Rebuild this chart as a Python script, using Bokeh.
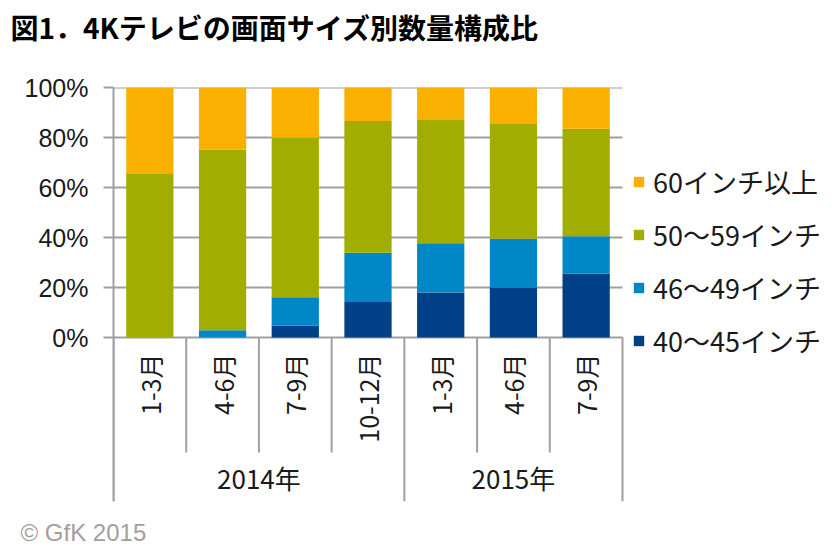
import numpy as np
from bokeh.plotting import figure
from bokeh.models import (Range1d, FixedTicker, PrintfTickFormatter, Legend,
                          LegendItem, Title, ColumnDataSource)
from bokeh.embed import file_html
from bokeh.resources import INLINE
from bokeh.core.properties import value

# ---------------- data ----------------
title_text = "図1．4Kテレビの画面サイズ別数量構成比"
years = ["2014年", "2014年", "2014年", "2014年", "2015年", "2015年", "2015年"]
quarters = ["1-3月", "4-6月", "7-9月", "10-12月", "1-3月", "4-6月", "7-9月"]
series_names = ["40～45インチ", "46～49インチ", "50～59インチ", "60インチ以上"]
s40_45 = [0.0, 0.0, 4.8, 14.2, 18.0, 19.8, 25.5]
s46_49 = [0.0, 2.9, 11.3, 19.7, 19.7, 19.7, 15.0]
s50_59 = [65.7, 72.2, 63.8, 52.7, 49.6, 45.9, 43.0]
s60_up = [34.3, 24.9, 20.1, 13.4, 12.7, 14.6, 16.5]
y_ticks = [0, 20, 40, 60, 80, 100]
source_note = "© GfK 2015"

colors = ["#004087", "#0087C7", "#A1AD00", "#F9B000"]
grid_color = "#A0A0A0"
text_color = "#1a1a1a"
cjk_font = "Noto Sans CJK JP"
latin_font = "Liberation Sans"

# ---------------- layout (page pixels) ----------------
W, H = 840, 555
frame_left, plot_right = 113, 622
frame_top, frame_bottom = 87, 501
zero_px = 337                       # page y of the 0% line
n = len(quarters)
px_per_pct = (zero_px - frame_top) / 100.0
y_min = -(frame_bottom - zero_px) / px_per_pct
px_per_cat = (plot_right - frame_left) / n
x_max = -0.5 + (W - frame_left) / px_per_cat


def px_to_y(py):
    return (zero_px - py) / px_per_pct


p = figure(width=W, height=H,
           x_range=Range1d(-0.5, x_max), y_range=Range1d(y_min, 100),
           x_axis_type=None, toolbar_location=None, output_backend="svg",
           min_border_left=frame_left, min_border_right=0,
           min_border_top=frame_top, min_border_bottom=H - frame_bottom)
p.title = None
p.outline_line_color = None
p.background_fill_color = "white"
p.border_fill_color = "white"

# y axis
p.yaxis.ticker = FixedTicker(ticks=y_ticks)
p.yaxis.formatter = PrintfTickFormatter(format="%d%%")
p.yaxis.major_label_text_font = latin_font
p.yaxis.major_label_text_font_size = "25px"
p.yaxis.major_label_text_color = text_color
p.yaxis.major_tick_out = 10
p.yaxis.major_tick_in = 0
p.yaxis.minor_tick_line_color = None
p.yaxis.axis_line_color = grid_color
p.yaxis.axis_line_width = 2
p.yaxis.major_tick_line_color = grid_color
p.yaxis.major_tick_line_width = 2
p.yaxis.major_label_standoff = 15
p.ygrid.visible = False

# horizontal grid lines over the category span only
p.segment(x0=[-0.5] * len(y_ticks), y0=y_ticks, x1=[n - 0.5] * len(y_ticks), y1=y_ticks,
          line_color=grid_color, line_width=2)

# bars
idx = list(range(n))
src = ColumnDataSource(dict(x=idx, s0=s40_45, s1=s46_49, s2=s50_59, s3=s60_up))
rends = p.vbar_stack(["s0", "s1", "s2", "s3"], x="x", width=0.65,
                     fill_color=colors, line_color=None, source=src)

# category separators (x axis)
bounds = np.arange(n + 1) - 0.5
long_b, short_b = [], []
for b in range(n + 1):
    if b == 0 or b == n or years[b] != years[b - 1]:
        long_b.append(bounds[b])
    else:
        short_b.append(bounds[b])
short_bottom = px_to_y(452)
p.segment(x0=short_b, y0=[0] * len(short_b), x1=short_b, y1=[short_bottom] * len(short_b),
          line_color=grid_color, line_width=2)
p.segment(x0=long_b, y0=[0] * len(long_b), x1=long_b, y1=[y_min] * len(long_b),
          line_color=grid_color, line_width=2)

# quarter labels (rotated)
p.text(x=idx, y=[0] * n, text=quarters, angle=np.pi / 2, text_align="right",
       text_baseline="middle", y_offset=16, text_font=value(cjk_font),
       text_font_size="25px", text_color=text_color)

# year group labels
uniq_years = []
for yv in years:
    if yv not in uniq_years:
        uniq_years.append(yv)
yx = [float(np.mean([i for i in idx if years[i] == yv])) for yv in uniq_years]
p.text(x=yx, y=[0] * len(yx), text=uniq_years, text_align="center",
       text_baseline="middle", y_offset=140, text_font=value(cjk_font),
       text_font_size="26px", text_color=text_color)

# legend
items = [LegendItem(label=series_names[i], renderers=[rends[i]]) for i in reversed(range(4))]
legend = Legend(items=items, location=(632 - frame_left, frame_bottom - 360),
                orientation="vertical", padding=0, margin=0,
                border_line_color=None, background_fill_alpha=0,
                glyph_width=13, glyph_height=13, label_standoff=8,
                label_height=30, spacing=14,
                label_text_font=cjk_font, label_text_font_size="27px",
                label_text_color=text_color)
p.add_layout(legend)

# title (with a spacer between it and the plot) and source note
top_spacer = Title(text=" ", text_font_size="2px", standoff=31)
p.add_layout(top_spacer, "above")
p.add_layout(Title(text=title_text, align="left", offset=10 - frame_left,
                   vertical_align="middle", standoff=10,
                   text_font=cjk_font, text_font_style="bold", text_font_size="28px",
                   text_color="#000000"), "above")
bottom_spacer = Title(text=" ", text_font_size="2px", standoff=7)
p.add_layout(bottom_spacer, "below")
p.add_layout(Title(text=source_note, align="left", offset=20 - frame_left,
                   vertical_align="middle", standoff=10,
                   text_font=latin_font, text_font_style="normal",
                   text_font_size="24px", text_color="#A39E9A"), "below")

with open("out.html", "w", encoding="utf-8") as f:
    f.write(file_html(p, INLINE))
